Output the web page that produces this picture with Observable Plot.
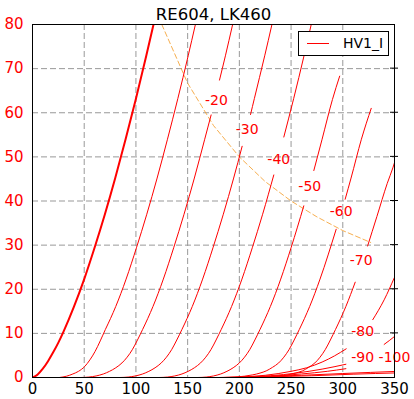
<!DOCTYPE html>
<html><head><meta charset="utf-8">
<script src="https://cdn.jsdelivr.net/npm/d3@7"></script>
<script src="https://cdn.jsdelivr.net/npm/@observablehq/plot@0.6"></script>
<style>
body{margin:0;background:#fff;}
#wrap{position:relative;width:414px;height:399px;font-family:"DejaVu Sans",sans-serif;}
#wrap svg{display:block;}
#legend{position:absolute;left:298px;top:31px;width:91px;height:25px;box-sizing:border-box;border:1px solid #000;background:#fff;}
#legend .sw{position:absolute;left:8px;top:11px;width:22px;height:0;border-top:1px solid red;}
#legend .tx{position:absolute;left:44px;top:3px;font-size:14px;color:#000;font-family:"DejaVu Sans",sans-serif;}
</style></head><body><div id="wrap"><div id="legend"><span class="sw"></span><span class="tx"></span></div></div>
<script>
const title = "RE604, LK460";
const legendLabel = "HV1_I";
const xTicks = [0, 50, 100, 150, 200, 250, 300, 350];
const yTicks = [0, 10, 20, 30, 40, 50, 60, 70, 80];

// plate voltage [V], plate current [mA] per grid voltage
const g0   = [[0,0],[5,0.7],[10,2.0],[15,3.7],[20,5.7],[25,7.9],[30,10.4],[40,16],[50,22.3],[60,29.4],[70,37],[80,45.2],[90,54],[100,63.2],[110,72.9],[117,80],[122,85.2]];
const g10  = [[26,0],[33,0.3],[39,0.8],[44.5,1.4],[50.5,2.5],[55.5,4.0],[60.5,5.9],[65.5,8.3],[70.5,10.9],[75.5,13.4],[80.5,16.1],[90.5,22.3],[100.5,29.4],[110.5,37],[120.5,45.2],[130.5,54],[140.5,63.2],[150.5,72.9],[157.5,80],[162.5,85.2]];
const g20  = [[46.5,0],[54.5,0.1],[61.5,0.35],[68.5,0.8],[74.5,1.4],[80.5,2.2],[86.5,3.3],[91.5,4.6],[96.5,6.3],[101.5,8.5],[106.5,10.9],[111.5,13.4],[116.5,16.1],[126.5,22.3],[136.5,29.4],[146.5,37],[156.5,45.2],[166.5,54],[172.7,59.5],[180.8,67.4],[186.5,72.9],[193.5,80],[198.5,85.2]];
const g30  = [[84.5,0],[92.5,0.1],[99.5,0.35],[106.5,0.8],[112.5,1.4],[118.5,2.2],[124.5,3.3],[129.5,4.6],[134.5,6.3],[139.5,8.5],[144.5,10.9],[149.5,13.4],[154.5,16.1],[164.5,22.3],[174.5,29.4],[184.5,37],[194.5,45.2],[202.7,52.4],[210.8,59.6],[214.5,63.2],[224.5,72.9],[231.5,80],[236.5,85.2]];
const g40  = [[122.5,0],[130.5,0.1],[137.5,0.35],[144.5,0.8],[150.5,1.4],[156.5,2.2],[162.5,3.3],[167.5,4.6],[172.5,6.3],[177.5,8.5],[182.5,10.9],[187.5,13.4],[192.5,16.1],[202.5,22.3],[212.5,29.4],[222.5,37],[233.3,45.9],[243,54.5],[252.5,63.2],[262.5,72.9],[269.5,80]];
const g50  = [[160,0],[168,0.1],[175,0.35],[182,0.8],[188,1.4],[194,2.2],[200,3.3],[205,4.6],[210,6.3],[215,8.5],[220,10.9],[225,13.4],[230,16.1],[240,22.3],[250,29.4],[262.3,38.9],[272,46.9],[280,54],[290,63],[297,68.3]];
const g60  = [[185,0],[195,0.1],[205,0.3],[213,0.6],[220,1.0],[226,1.5],[232,2.3],[238,3.3],[243,4.6],[248,6.3],[253,8.5],[258,10.9],[263,13.4],[268,16.1],[278,22.3],[293.6,33.6],[302.3,40.4],[308,45.2],[318,54],[327.5,61]];
const g70  = [[215,0],[228,0.1],[238,0.3],[247,0.6],[254,1.0],[261,1.5],[267,2.3],[273,3.3],[278,4.6],[283,6.3],[288,8.5],[293,10.9],[298,13.4],[303,16.1],[312,21.6],[324,29.8],[333,36.5],[343,44],[348.4,47.5],[353,51]];
const g80  = [[200,0.1],[225,0.5],[250,1.4],[265,2.2],[280,3.5],[292,4.9],[303.3,6.5],[329,13.1],[340,17.6],[350,22.7],[353,24.3]];
const g90  = [[200,0.1],[230,0.4],[255,1.0],[280,1.9],[303,3.0],[340,7.5],[350,9.3],[353,9.9]];
const g100 = [[200,0.05],[230,0.3],[260,0.8],[285,1.4],[303,2.0]];
const g110 = [[180,0],[220,0.2],[260,0.5],[300,0.9],[353,1.4]];
const g120 = [[180,0],[230,0.15],[270,0.4],[310,0.75],[353,1.05]];

const curveGrid = [0, -10, -20, -30, -40, -50, -60, -70, -80, -90, -100, -110, -120];
const curvePts  = [g0, g10, g20, g30, g40, g50, g60, g70, g80, g90, g100, g110, g120];
// inline label gaps (plate-voltage range where each curve is broken for its label)
const gapFrom = [null, null, 172.7, 202.7, 233.3, 262.3, 293.6, 312, 303.3, 303, null, null, null];
const gapTo   = [null, null, 180.8, 210.8, 243, 272, 302.3, 324, 329, 340, null, null, null];
const labelText = ["-20", "-30", "-40", "-50", "-60", "-70", "-80", "-90", "-100"];
const labelV    = [177.9, 207.6, 238.1, 268.1, 298.5, 317.8, 319.3, 319.3, 350];
const labelI    = [62.8, 56.1, 49.4, 43.3, 37.7, 26.4, 10.5, 4.6, 4.6];

// 10 W dissipation hyperbola (dashed)
const powerV = [125, 150, 175, 200, 225, 250, 275, 300, 327];
const powerI = [80, 66.7, 57.1, 50, 44.4, 40, 36.4, 33.3, 30.6];

const rows = [];
curveGrid.forEach((g, k) => {
  curvePts[k].forEach(([V, I]) => {
    let seg = "a";
    if (gapFrom[k] != null) {
      if (V > gapFrom[k] && V < gapTo[k]) return;
      if (V >= gapTo[k]) seg = "b";
    }
    rows.push({g, V, I, seg: g + seg, thick: g === 0});
  });
});
const labels = labelText.map((t, i) => ({t, V: labelV[i], I: labelI[i]}));
const power = powerV.map((V, i) => ({V, I: powerI[i]}));

const RED = "#ff0000";
const chart = Plot.plot({
  width: 414, height: 399,
  marginLeft: 32, marginRight: 20, marginTop: 24, marginBottom: 22,
  style: {fontFamily: "DejaVu Sans, sans-serif", fontSize: "15px", background: "white", overflow: "visible", color: "black"},
  x: {domain: [0, 350], ticks: xTicks, tickSize: 0, tickPadding: 6, label: null},
  y: {domain: [0, 80], ticks: yTicks, tickSize: 0, tickPadding: 9, label: null},
  marks: [
    Plot.ruleX(xTicks, {stroke: "#999", strokeDasharray: "6,3"}),
    Plot.ruleY(yTicks, {stroke: "#999", strokeDasharray: "6,3"}),
    Plot.line(power, {x: "V", y: "I", stroke: "#f5a030", strokeOpacity: 0.85, strokeDasharray: "5,3", strokeWidth: 1, clip: true}),
    Plot.line(rows.filter(d => !d.thick), {x: "V", y: "I", z: "seg", stroke: RED, strokeWidth: 1, clip: true, curve: "monotone-x"}),
    Plot.line(rows.filter(d => d.thick), {x: "V", y: "I", z: "seg", stroke: RED, strokeWidth: 2, clip: true, curve: "monotone-x"}),
    Plot.text(labels, {x: "V", y: "I", text: "t", fill: RED, fontSize: 14}),
    Plot.frame({stroke: "black", strokeWidth: 1}),
    Plot.text([title], {frameAnchor: "top", dy: -16, fontSize: 16.5, fill: "black"})
  ]
});

const sx = chart.scale("x"), sy = chart.scale("y");
const svg = d3.select(chart);
svg.selectAll('g[aria-label^="y-axis"] text').attr("fill", RED);
svg.selectAll('g[aria-label^="y-axis"]').attr("fill", RED);
yTicks.slice(1, -1).forEach(t => {
  svg.append("line").attr("x1", sx.apply(350) - 4).attr("x2", sx.apply(350) + 4)
    .attr("y1", sy.apply(t)).attr("y2", sy.apply(t)).attr("stroke", "black");
});
document.getElementById("wrap").appendChild(chart);
document.querySelector("#legend .tx").textContent = legendLabel;
</script>
</body></html>
